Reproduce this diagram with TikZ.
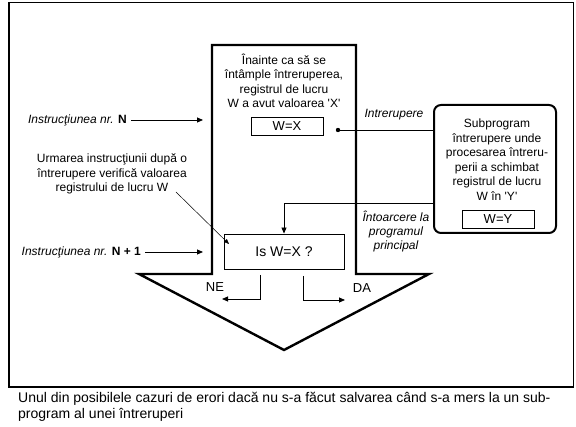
\documentclass[tikz,border=0pt]{standalone}
\usepackage{fontspec}
\setmainfont{Liberation Sans}
\usetikzlibrary{arrows.meta,positioning}
\tikzset{
  frame/.style={draw,line width=1.6pt},
  bigarrow/.style={draw,line width=2.4pt,line join=miter},
  regbox/.style={draw,line width=0.9pt,minimum width=72pt,minimum height=18pt,inner sep=0pt,font=\fontsize{13}{15}\selectfont},
  subbox/.style={draw,line width=2pt,rounded corners=7pt,minimum width=122pt,minimum height=128pt},
  isbox/.style={draw,line width=0.9pt,minimum width=120pt,minimum height=35pt,font=\fontsize{14}{16}\selectfont},
  flow/.style={-{Triangle[length=6pt,width=5pt]},line width=0.8pt},
  pointer/.style={-{Triangle[length=5pt,width=4pt]},line width=0.5pt},
  note/.style={align=center,inner sep=0pt,font=\fontsize{12}{14.5}\selectfont},
  lbl/.style={align=center,inner sep=0pt,font=\fontsize{12}{14}\selectfont\itshape},
  instr/.style={lbl,inner sep=4pt,anchor=east},
}
\begin{document}
\begin{tikzpicture}[x=1pt,y=-1pt]
\useasboundingbox (0,0) rectangle (576,427);
% frame and the big arrow
\draw[frame] (9,2.5) rectangle (573.5,387);
\draw[bigarrow] (212,45)--(356,45)--(356,274)--(429,274)--(284,350)--(139,274)--(212,274)--cycle;

% main program
\node[note] (before) at (284,81)
  {Înainte ca să se\\întâmple întreruperea,\\registrul de lucru\\W a avut valoarea \textquotesingle X\textquotesingle};
\node[regbox] (wx) at (287,126) {W=X};
\node[isbox] (is) at (284,251.5) {Is W=X ?};

% interrupt subroutine
\node[subbox] (sub) at (495,169) {};
\node[note] (subtxt) at (497,159.5)
  {Subprogram\\întrerupere unde\\procesarea întreru-\\perii a schimbat\\registrul de lucru\\W în \textquotesingle Y\textquotesingle};
\node[regbox] (wy) at (498,219.5) {W=Y};

\coordinate (dot) at (338,130);
\fill (dot) circle (2.2pt);
\draw[line width=0.8pt] (dot) -- (dot -| sub.west);
\node[lbl] (intr) at (394,115) {Intrerupere};

\coordinate (ret) at (434,203);
\draw[flow] (ret) -| (is.north);
\node[lbl] (back) at (396,232) {Întoarcere la\\programul\\principal};

% instructions
\node[instr] (instrN) at (131,120) {Instrucţiunea nr. \textbf{\upshape N}};
\coordinate (inN) at (203,120);
\draw[flow] (instrN) -- (inN);
\node[instr] (instrN1) at (145,252) {Instrucţiunea nr. \textbf{\upshape N + 1}};
\coordinate (inN1) at (203,252);
\draw[flow] (instrN1) -- (inN1);

\node[note] (follow) at (112,174)
  {Urmarea instrucţiunii după o\\întrerupere verifică valoarea\\registrului de lucru W};
\coordinate (fromnote) at (176,192);
\coordinate (tonote) at (229,244);
\draw[pointer] (fromnote) -- (tonote);

% NE / DA
\coordinate (ne0) at (260,275);
\coordinate (ne1) at (222,299);
\draw[flow] (ne0) |- (ne1);
\node[note,font=\fontsize{13}{15}\selectfont] (ne) at (215,287) {NE};
\coordinate (da0) at (303,276);
\coordinate (da1) at (345,300);
\draw[flow] (da0) |- (da1);
\node[note,font=\fontsize{13}{15}\selectfont] (da) at (362,288) {DA};

% caption
\node[anchor=north west,align=left,inner sep=0pt,font=\fontsize{14}{16}\selectfont] (cap) at (18,392)
  {Unul din posibilele cazuri de erori dacă nu s-a făcut salvarea când s-a mers la un sub-\\program al unei întreruperi};
\end{tikzpicture}
\end{document}
